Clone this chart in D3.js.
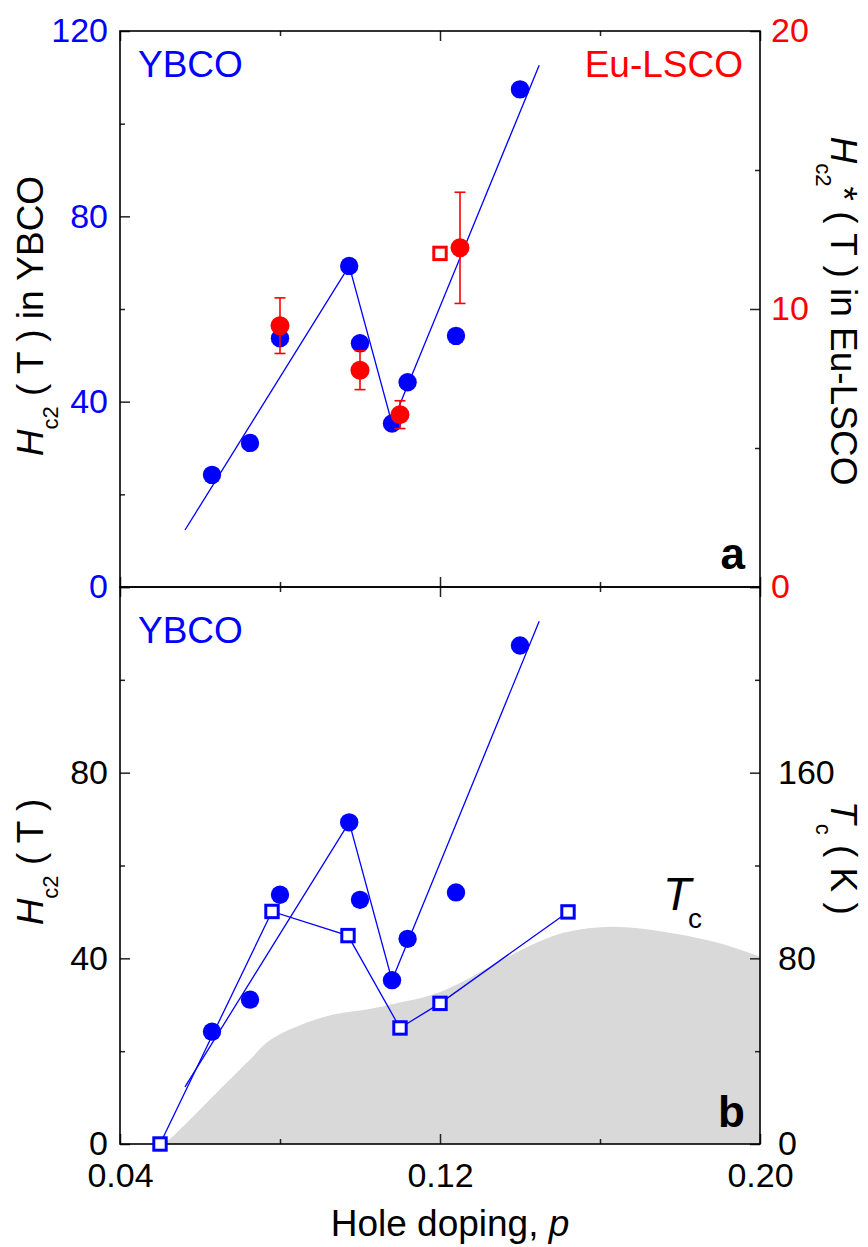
<!DOCTYPE html>
<html lang="en">
<head>
  <meta charset="UTF-8">
  <title>Hc2 vs hole doping</title>
  <script src="https://d3js.org/d3.v7.min.js"></script>
  <style>
    body { margin: 0; background: #fff; }
    svg { display: block; }
    text { font-family: "Liberation Sans", Arial, sans-serif; white-space: pre; }
  </style>
</head>
<body>
  <svg id="chart" width="868" height="1247"></svg>
  <script>
    // YBCO Hc2 (filled blue circles, left axis, T)
    const ybcoP = [0.063, 0.0725, 0.080, 0.0973, 0.100, 0.108, 0.1119, 0.124, 0.140];
    const ybcoH = [24.2, 31.1, 53.7, 69.3, 52.6, 35.3, 44.2, 54.2, 107.4];

    // guide line through the YBCO points
    const guideP = [0.05625, 0.0973, 0.108, 0.1448];
    const guideH = [12.3, 69.3, 35.3, 112.6];

    // Eu-LSCO Hc2* (red, right axis of panel a)
    const euP = [0.080, 0.100, 0.110, 0.125];
    const euH = [9.4, 7.8, 6.2, 12.2];
    const euErr = [1.0, 0.7, 0.5, 2.0];
    const euOpenP = [0.120];
    const euOpenH = [12.0];

    // open blue squares in panel b
    const sqP = [0.050, 0.078, 0.097, 0.110, 0.120, 0.152];
    const sqH = [0, 50.1, 44.9, 25.0, 30.3, 50.0];

    // Tc dome (grey, right axis of panel b, K)
    const tcP = [0.0505, 0.0517, 0.0558, 0.060, 0.0642, 0.0683, 0.0725, 0.0767, 0.0808, 0.085, 0.0933,
                 0.1017, 0.110, 0.1183, 0.1267, 0.135, 0.145, 0.1508, 0.1633, 0.1758, 0.1883, 0.200];
    const tcK = [0, 1.2, 7.7, 14.9, 22.2, 29.2, 36.4, 43.7, 48, 51.2, 55.8,
                 58, 61, 64.4, 70.9, 78.8, 87.4, 91, 93.6, 91.5, 87.2, 80.7];

    // ticks
    const pMajor = [0.04, 0.12, 0.20], pMinor = [0.08, 0.16];
    const hMajor = [0, 40, 80, 120], hMinor = [20, 60, 100];
    const hLabelsA = [0, 40, 80, 120], hLabelsB = [0, 40, 80];
    const euMajor = [0, 10, 20], euMinor = [5, 15];
    const tcMajor = [0, 80, 160, 240], tcMinor = [40, 120, 200], tcLabels = [0, 80, 160];

    const BLUE = "#0000ff", RED = "#ff0000", GREY = "#d9d9d9";

    const svg = d3.select("#chart");

    const x = d3.scaleLinear().domain([0.04, 0.20]).range([120, 760]);
    const yA = d3.scaleLinear().domain([0, 120]).range([587, 31]);
    const yAR = d3.scaleLinear().domain([0, 20]).range([587, 31]);
    const yB = d3.scaleLinear().domain([0, 120]).range([1144, 587]);
    const yBR = d3.scaleLinear().domain([0, 240]).range([1144, 587]);

    const ybco = ybcoP.map((p, i) => ({ p: p, h: ybcoH[i] }));
    const guide = guideP.map((p, i) => ({ p: p, h: guideH[i] }));
    const eu = euP.map((p, i) => ({ p: p, h: euH[i], e: euErr[i] }));
    const euOpen = euOpenP.map((p, i) => ({ p: p, h: euOpenH[i] }));
    const sq = sqP.map((p, i) => ({ p: p, h: sqH[i] }));
    const tc = tcP.map((p, i) => ({ p: p, t: tcK[i] }));

    // grey Tc area first so everything sits on top
    svg.append("path")
      .datum(tc)
      .attr("d", d3.area().curve(d3.curveMonotoneX)
        .x(d => x(d.p)).y0(yBR(0)).y1(d => yBR(d.t)))
      .attr("fill", GREY);

    // axes
    function addAxis(orient, scale, pos, major, minor, labels, color, pad, fmt) {
      const make = { left: d3.axisLeft, right: d3.axisRight, top: d3.axisTop, bottom: d3.axisBottom }[orient];
      const tr = (orient == "left" || orient == "right") ? `translate(${pos},0)` : `translate(0,${pos})`;
      svg.append("g").attr("transform", tr)
        .call(make(scale).tickValues(minor).tickSizeInner(-5).tickSizeOuter(0).tickFormat(""))
        .call(g => g.select(".domain").remove())
        .selectAll("line").attr("stroke", "#222").attr("stroke-width", 1.5);
      const g = svg.append("g").attr("transform", tr)
        .call(make(scale).tickValues(major).tickSizeInner(-10).tickSizeOuter(0).tickPadding(pad)
          .tickFormat(d => labels.includes(d) ? fmt(d) : ""))
        .attr("font-family", null).attr("font-size", 34);
      g.select(".domain").remove();
      g.selectAll("line").attr("stroke", "#222").attr("stroke-width", 1.5);
      g.selectAll("text").attr("fill", color);
      return g;
    }
    const intFmt = d => String(d);

    // panel a
    addAxis("left", yA, 120, hMajor, hMinor, hLabelsA, BLUE, 12, intFmt);
    addAxis("right", yAR, 760, euMajor, euMinor, euMajor, RED, 11, intFmt);
    addAxis("top", x, 31, pMajor, pMinor, [], "#000", 10, intFmt);
    addAxis("bottom", x, 587, pMajor, pMinor, [], "#000", 10, intFmt);

    // panel b
    addAxis("left", yB, 120, hMajor, hMinor, hLabelsB, "#000", 12, intFmt);
    addAxis("right", yBR, 760, tcMajor, tcMinor, tcLabels, "#000", 18, intFmt);
    addAxis("top", x, 587, pMajor, pMinor, [], "#000", 10, intFmt);
    addAxis("bottom", x, 1144, pMajor, pMinor, pMajor, "#000", 19, d3.format(".2f"));

    // frames
    svg.append("rect").attr("x", 120).attr("y", 31).attr("width", 640).attr("height", 556)
      .attr("fill", "none").attr("stroke", "#000").attr("stroke-width", 1.6);
    svg.append("rect").attr("x", 120).attr("y", 587).attr("width", 640).attr("height", 557)
      .attr("fill", "none").attr("stroke", "#000").attr("stroke-width", 1.6);

    const guideLine = (ys) => d3.line().x(d => x(d.p)).y(d => ys(d.h));

    // ---- panel a ----
    svg.append("path").datum(guide)
      .attr("d", guideLine(yA)).attr("fill", "none").attr("stroke", BLUE).attr("stroke-width", 1.3);

    svg.append("g").selectAll("circle").data(ybco).join("circle")
      .attr("cx", d => x(d.p)).attr("cy", d => yA(d.h)).attr("r", 9.2).attr("fill", BLUE);

    const err = svg.append("g").attr("stroke", RED).attr("stroke-width", 1.6);
    err.selectAll(".v").data(eu).join("line")
      .attr("x1", d => x(d.p)).attr("x2", d => x(d.p))
      .attr("y1", d => yAR(d.h - d.e)).attr("y2", d => yAR(d.h + d.e));
    err.selectAll(".t").data(eu).join("line")
      .attr("x1", d => x(d.p) - 5.5).attr("x2", d => x(d.p) + 5.5)
      .attr("y1", d => yAR(d.h + d.e)).attr("y2", d => yAR(d.h + d.e));
    err.selectAll(".b").data(eu).join("line")
      .attr("x1", d => x(d.p) - 5.5).attr("x2", d => x(d.p) + 5.5)
      .attr("y1", d => yAR(d.h - d.e)).attr("y2", d => yAR(d.h - d.e));

    svg.append("g").selectAll("circle").data(eu).join("circle")
      .attr("cx", d => x(d.p)).attr("cy", d => yAR(d.h)).attr("r", 9.5).attr("fill", RED);

    svg.append("g").selectAll("rect").data(euOpen).join("rect")
      .attr("x", d => x(d.p) - 6.2).attr("y", d => yAR(d.h) - 6.2)
      .attr("width", 12.4).attr("height", 12.4)
      .attr("fill", "#fff").attr("stroke", RED).attr("stroke-width", 3);

    // ---- panel b ----
    svg.append("path").datum(guide)
      .attr("d", guideLine(yB)).attr("fill", "none").attr("stroke", BLUE).attr("stroke-width", 1.3);
    svg.append("path").datum(sq)
      .attr("d", guideLine(yB)).attr("fill", "none").attr("stroke", BLUE).attr("stroke-width", 1.3);

    svg.append("g").selectAll("circle").data(ybco).join("circle")
      .attr("cx", d => x(d.p)).attr("cy", d => yB(d.h)).attr("r", 9.2).attr("fill", BLUE);

    svg.append("g").selectAll("rect").data(sq).join("rect")
      .attr("x", d => x(d.p) - 6.2).attr("y", d => yB(d.h) - 6.2)
      .attr("width", 12.4).attr("height", 12.4)
      .attr("fill", "#fff").attr("stroke", BLUE).attr("stroke-width", 3);

    // ---- labels ----
    const label = (px, py, txt, opts) => {
      const t = svg.append("text").attr("x", px).attr("y", py).text(txt);
      Object.entries(opts || {}).forEach(([k, v]) => t.attr(k, v));
      return t;
    };
    label(138, 77, "YBCO", { "font-size": 37, fill: BLUE });
    label(743, 77, "Eu-LSCO", { "font-size": 37, fill: RED, "text-anchor": "end" });
    label(745, 569, "a", { "font-size": 44, "font-weight": "bold", "text-anchor": "end" });
    label(138, 643, "YBCO", { "font-size": 37, fill: BLUE });
    label(745, 1127, "b", { "font-size": 44, "font-weight": "bold", "text-anchor": "end" });

    const tcLab = svg.append("text").attr("x", 663).attr("y", 910).attr("font-size", 46);
    tcLab.append("tspan").attr("font-style", "italic").text("T");
    tcLab.append("tspan").attr("font-size", 28).attr("dx", -3).attr("dy", 18).text("c");

    // axis titles
    function title(tx, ty, rot, parts) {
      const t = svg.append("text")
        .attr("transform", `translate(${tx},${ty}) rotate(${rot})`)
        .attr("text-anchor", "middle").attr("font-size", 37);
      parts.forEach(pt => {
        const s = t.append("tspan").text(pt.t);
        if (pt.i) s.attr("font-style", "italic");
        if (pt.fs) s.attr("font-size", pt.fs);
        if (pt.dy) s.attr("dy", pt.dy);
      });
      return t;
    }
    title(43, 316, -90, [{ t: "H", i: 1 }, { t: "c2", fs: 22, dy: 15 }, { t: " ( T ) in YBCO", dy: -15 }]);
    title(831, 311, 90, [{ t: "H", i: 1 }, { t: "c2", fs: 22, dy: 15 }, { t: "* ( T ) in Eu-LSCO", dy: -15 }]);
    title(43, 862, -90, [{ t: "H", i: 1 }, { t: "c2", fs: 22, dy: 15 }, { t: " ( T )", dy: -15 }]);
    title(831, 858, 90, [{ t: "T", i: 1 }, { t: "c", fs: 22, dy: 15 }, { t: " ( K )", dy: -15 }]);

    const xt = svg.append("text").attr("x", 450).attr("y", 1236)
      .attr("text-anchor", "middle").attr("font-size", 37);
    xt.append("tspan").text("Hole doping, ");
    xt.append("tspan").attr("font-style", "italic").text("p");
  </script>
</body>
</html>
